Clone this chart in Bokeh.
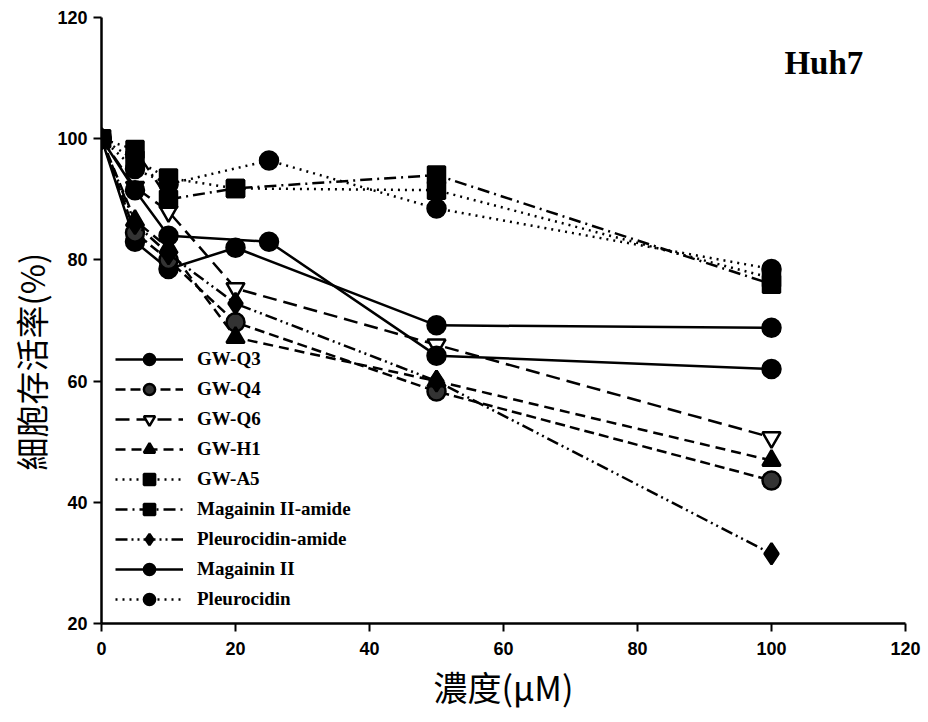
from bokeh.plotting import figure
from bokeh.models import Legend, LegendItem, Label, FixedTicker, Title
from bokeh.embed import file_html
from bokeh.resources import INLINE

# concentrations (µM) and viability (%) per series
x_q3 = [0, 5, 10, 20, 50, 100]
y_q3 = [100, 83.0, 78.5, 82.0, 69.2, 68.8]

x_q4 = [0, 5, 10, 20, 50, 100]
y_q4 = [100, 84.5, 80.0, 69.7, 58.3, 43.6]

x_q6 = [0, 5, 10, 20, 50, 100]
y_q6 = [100, 92.0, 88.0, 75.3, 66.0, 50.7]

x_h1 = [0, 5, 10, 20, 50, 100]
y_h1 = [100, 86.5, 82.0, 67.2, 60.0, 46.9]

x_a5 = [0, 5, 10, 20, 50, 100]
y_a5 = [100, 96.5, 93.5, 91.8, 91.5, 77.0]

x_mag_am = [0, 5, 10, 20, 50, 100]
y_mag_am = [100, 98.2, 90.0, 91.8, 94.0, 76.0]

x_ple_am = [0, 5, 10, 20, 50, 100]
y_ple_am = [100, 86.0, 81.0, 72.8, 60.0, 31.5]

x_mag = [0, 5, 10, 25, 50, 100]
y_mag = [100, 91.5, 84.0, 83.0, 64.2, 62.0]

x_ple = [0, 5, 10, 25, 50, 100]
y_ple = [100, 95.0, 92.5, 96.4, 88.5, 78.5]

labels = ["GW-Q3", "GW-Q4", "GW-Q6", "GW-H1", "GW-A5",
          "Magainin II-amide", "Pleurocidin-amide", "Magainin II", "Pleurocidin"]

x_ticks = [0, 20, 40, 60, 80, 100, 120]
y_ticks = [20, 40, 60, 80, 100, 120]

p = figure(width=923, height=714, frame_width=804, frame_height=606,
           x_range=(0, 120), y_range=(20, 120),
           output_backend="svg", toolbar_location=None,
           min_border_left=101, min_border_top=17, min_border_right=18, min_border_bottom=91)
p.outline_line_color = None
p.grid.visible = False
p.background_fill_color = "white"

series = [
    (x_q3, y_q3, "solid", "circle", "black", 18),
    (x_q4, y_q4, "10 5", "circle", "#333333", 18),
    (x_q6, y_q6, "14 7", "inverted_triangle", "white", 18),
    (x_h1, y_h1, "10 6", "triangle", "black", 18),
    (x_a5, y_a5, "2 5", "square", "black", 17),
    (x_mag_am, y_mag_am, "12 5 2 5", "square", "black", 17),
    (x_ple_am, y_ple_am, "12 4 2 4 2 4", "diamond", "black", 21),
    (x_mag, y_mag, "solid", "circle", "black", 18),
    (x_ple, y_ple, "2 5", "circle", "black", 18),
]

items = []
for (xs, ys, dash, marker, fill, size), lab in zip(series, labels):
    r1 = p.line(xs, ys, line_color="black", line_width=2.5, line_dash=dash)
    r2 = p.scatter(xs, ys, marker=marker, size=size, fill_color=fill,
                   line_color="black", line_width=2.5)
    items.append(LegendItem(label=lab, renderers=[r1, r2]))

legend = Legend(items=items, location=(14, 10),
                label_text_font="Liberation Serif", label_text_font_style="bold",
                label_text_font_size="19px", label_text_color="black",
                glyph_width=68, glyph_height=28, label_height=28,
                label_standoff=14,
                spacing=2, padding=4, margin=0,
                border_line_color=None, background_fill_alpha=0)
p.add_layout(legend, "center")

for ax in (p.xaxis[0], p.yaxis[0]):
    ax.axis_line_width = 2.5
    ax.axis_line_color = "black"
    ax.major_tick_line_width = 2
    ax.major_tick_line_color = "black"
    ax.major_tick_out = 8
    ax.major_tick_in = 0
    ax.minor_tick_line_color = None
    ax.major_label_text_font = "Liberation Sans"
    ax.major_label_text_font_style = "bold"
    ax.major_label_text_font_size = "18px"
    ax.major_label_text_color = "black"

p.xaxis.ticker = FixedTicker(ticks=x_ticks)
p.yaxis.ticker = FixedTicker(ticks=y_ticks)
p.xaxis.axis_label = "濃度(μM)"
p.xaxis.axis_label_text_font = "Noto Sans CJK TC"
p.xaxis.axis_label_text_font_style = "normal"
p.xaxis.axis_label_text_color = "black"
p.xaxis.axis_label_text_font_size = "34px"
p.xaxis.major_label_standoff = 10
p.yaxis.major_label_standoff = 6
p.xaxis.axis_label_standoff = 4

# y-axis title, placed slightly below the frame centre as in the original
ytitle = Title(text="細胞存活率(%)", align="left", offset=153,
               text_font="Noto Sans CJK TC", text_font_size="33px",
               text_font_style="normal", text_color="black", standoff=0)
p.add_layout(ytitle, "left")

p.add_layout(Label(x=113.7, y=115.5, text="Huh7", text_align="right", text_baseline="top",
                   x_units="data", y_units="data",
                   text_font="Liberation Serif", text_font_style="bold",
                   text_font_size="33px", text_color="black"))

open("out.html", "w").write(file_html(p, INLINE))
